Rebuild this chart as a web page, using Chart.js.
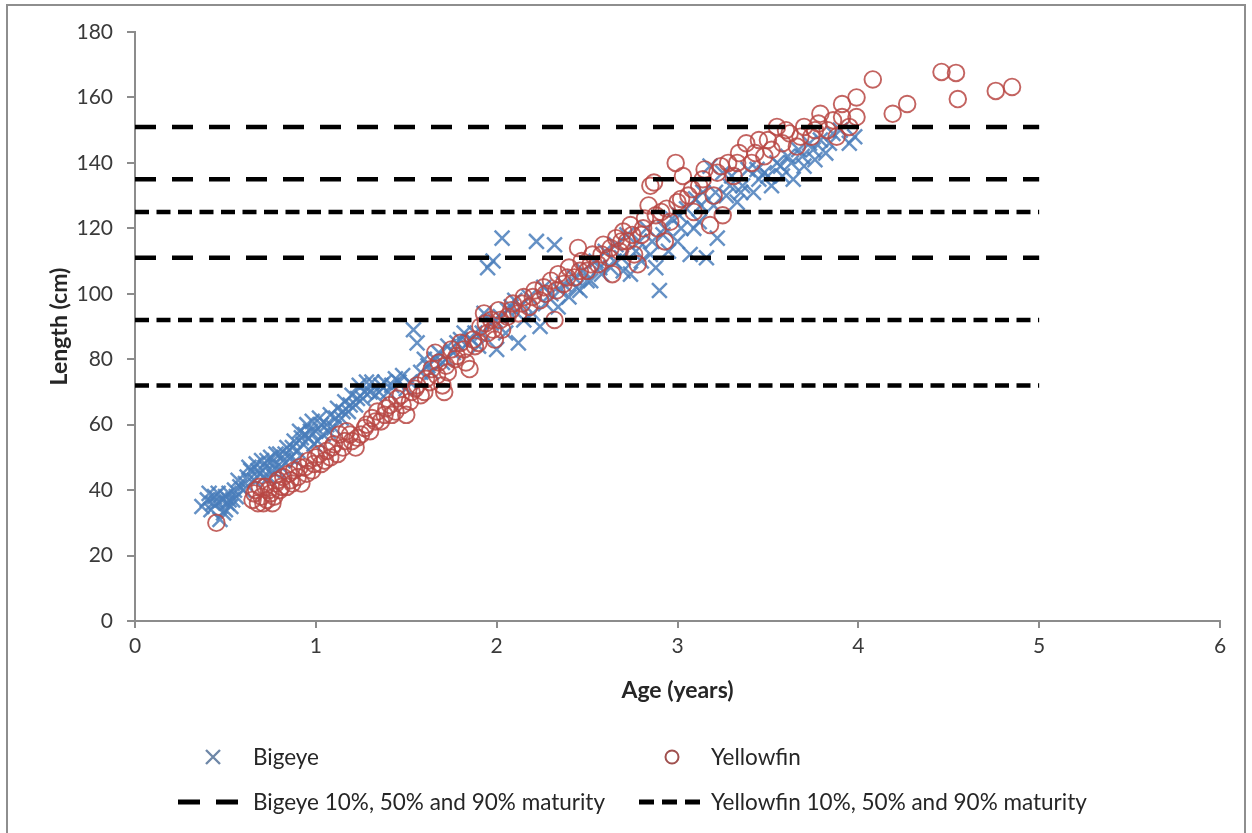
<!DOCTYPE html>
<html>
<head>
<meta charset="utf-8">
<title>Length at age - Bigeye and Yellowfin</title>
<script src="https://cdn.jsdelivr.net/npm/chart.js@4.4.1/dist/chart.umd.min.js"></script>
<style>
  html, body { margin: 0; padding: 0; background: #fff; }
  #wrap { position: relative; width: 1252px; height: 833px; overflow: hidden; font-family: Lato, "Open Sans", sans-serif; }
  #chart { position: absolute; left: 0; top: 0; }
  #frame { position: absolute; left: 6px; top: 4px; width: 1240px; height: 860px; border: 2px solid #8e8e8e; box-sizing: border-box; pointer-events: none; }
  .leg { position: absolute; font-size: 22.5px; color: #262626; line-height: 28px; white-space: nowrap; }
  .mk { position: absolute; }
</style>
</head>
<body>
<div id="wrap">
  <canvas id="chart" width="1252" height="833"></canvas>
  <div id="frame"></div>

  <svg class="mk" style="left:204px;top:748px" width="18" height="18">
    <path d="M2 2 L16 16 M16 2 L2 16" stroke="#6f88a8" stroke-width="2.4"/>
  </svg>
  <div class="leg" style="left:253px;top:743px">Bigeye</div>

  <svg class="mk" style="left:663px;top:748px" width="18" height="18">
    <circle cx="9" cy="9" r="6.5" fill="none" stroke="#a0504e" stroke-width="2"/>
  </svg>
  <div class="leg" style="left:711px;top:743px">Yellowfin</div>

  <svg class="mk" style="left:176px;top:796px" width="72" height="12">
    <path d="M2 6 L24 6 M40 6 L62 6" stroke="#000" stroke-width="5"/>
  </svg>
  <div class="leg" style="left:253px;top:788px">Bigeye 10%, 50% and 90% maturity</div>

  <svg class="mk" style="left:638px;top:796px" width="72" height="12">
    <path d="M1 6 L16 6 M24 6 L39 6 M47 6 L62 6" stroke="#000" stroke-width="5"/>
  </svg>
  <div class="leg" style="left:711px;top:788px">Yellowfin 10%, 50% and 90% maturity</div>
</div>

<script>
// age (years), length (cm)
const bigeyePoints = [
  [0.37,35],[0.40,37],[0.41,39],[0.42,34],[0.43,36],[0.44,38],[0.45,36],[0.46,39],[0.47,31],[0.48,37],
  [0.49,33],[0.50,38],[0.50,34],[0.51,36],[0.52,39],[0.52,37],[0.53,35],[0.54,37],[0.55,40],[0.56,38],
  [0.57,43],[0.58,41],[0.60,40],[0.61,42],[0.62,44],[0.63,47],[0.64,46],[0.66,43],[0.67,48],[0.68,46],
  [0.69,45],[0.70,49],[0.71,44],[0.72,47],[0.73,49],[0.74,44],[0.75,50],[0.76,46],[0.77,48],[0.78,51],
  [0.79,46],[0.80,51],[0.81,47],[0.82,49],[0.83,51],[0.84,53],[0.86,50],[0.87,53],[0.88,55],[0.89,49],
  [0.90,52],[0.91,58],[0.92,56],[0.93,54],[0.94,57],[0.95,60],[0.96,56],[0.97,58],[0.98,61],[0.99,54],
  [1.00,58],[1.01,55],[1.02,62],[1.03,60],[1.04,57],[1.06,60],[1.07,58],[1.08,63],[1.10,59],[1.11,62],
  [1.12,65],[1.14,62],[1.15,64],[1.16,67],[1.18,64],[1.19,66],[1.20,69],[1.22,66],[1.23,68],[1.24,72],
  [1.26,68],[1.27,70],[1.28,73],[1.30,70],[1.31,73],[1.33,69],[1.35,70],[1.36,72],[1.38,73],[1.40,70],
  [1.42,72],[1.44,74],[1.46,73],[1.48,75],[1.50,71],[1.52,73],[1.54,89],[1.56,85],[1.58,76],[1.60,80],
  [1.62,78],[1.64,76],[1.66,80],[1.68,82],[1.70,79],[1.72,80],[1.73,84],[1.76,82],[1.78,85],[1.80,86],
  [1.82,88],[1.84,85],[1.86,86],[1.88,88],[1.90,84],[1.92,88],[1.93,94],[1.95,108],[1.97,91],[1.98,110],
  [1.99,92],[2.00,83],[2.02,93],[2.03,117],[2.05,88],[2.06,95],[2.08,96],[2.10,98],[2.12,85],[2.13,96],
  [2.15,92],[2.18,99],[2.20,94],[2.22,116],[2.24,90],[2.26,102],[2.27,97],[2.30,100],[2.32,115],[2.34,96],
  [2.35,101],[2.37,103],[2.40,99],[2.43,105],[2.44,102],[2.46,101],[2.48,107],[2.50,104],[2.52,104],[2.55,110],
  [2.57,108],[2.58,106],[2.60,113],[2.63,108],[2.65,110],[2.66,115],[2.69,111],[2.70,107],[2.72,118],[2.74,106],
  [2.77,113],[2.79,116],[2.80,110],[2.83,120],[2.85,112],[2.86,116],[2.88,108],[2.90,101],[2.92,118],[2.93,120],
  [2.95,113],[2.97,123],[3.00,116],[3.01,124],[3.02,120],[3.05,126],[3.07,112],[3.09,120],[3.10,129],[3.12,122],
  [3.13,127],[3.14,131],[3.16,111],[3.18,139],[3.20,127],[3.21,131],[3.22,117],[3.25,137],[3.27,130],[3.29,133],
  [3.30,136],[3.33,128],[3.35,131],[3.36,133],[3.39,138],[3.42,131],[3.44,138],[3.45,135],[3.48,137],[3.50,136],
  [3.52,133],[3.55,140],[3.57,139],[3.58,136],[3.61,142],[3.63,140],[3.64,135],[3.67,144],[3.69,142],[3.70,139],
  [3.73,146],[3.75,144],[3.76,141],[3.79,147],[3.82,143],[3.84,146],[3.86,149],[3.90,150],[3.95,146],[3.98,148]
];

const yellowfinPoints = [
  [0.45,30],[0.65,37],[0.66,39],[0.67,40],[0.68,36],[0.69,41],[0.70,38],[0.71,36],[0.72,41],[0.73,37],
  [0.74,40],[0.75,39],[0.76,36],[0.77,38],[0.78,42],[0.79,43],[0.80,40],[0.81,41],[0.82,44],[0.84,41],
  [0.85,45],[0.86,43],[0.87,42],[0.88,46],[0.90,44],[0.91,47],[0.92,42],[0.94,47],[0.95,45],[0.96,49],
  [0.98,46],[0.99,48],[1.00,50],[1.02,51],[1.03,48],[1.05,49],[1.06,52],[1.08,50],[1.09,53],[1.10,54],
  [1.12,51],[1.13,57],[1.15,53],[1.16,55],[1.17,58],[1.19,57],[1.20,55],[1.22,53],[1.23,56],[1.25,57],
  [1.27,59],[1.28,60],[1.30,58],[1.31,62],[1.33,61],[1.34,64],[1.36,61],[1.38,63],[1.39,65],[1.41,66],
  [1.42,63],[1.44,64],[1.45,68],[1.47,69],[1.48,66],[1.50,63],[1.52,67],[1.53,70],[1.55,71],[1.56,72],
  [1.58,69],[1.60,70],[1.61,74],[1.63,73],[1.64,77],[1.66,82],[1.67,75],[1.68,79],[1.70,72],[1.71,70],
  [1.72,78],[1.73,76],[1.75,83],[1.77,80],[1.78,81],[1.80,85],[1.82,83],[1.83,79],[1.85,77],[1.87,86],
  [1.88,84],[1.90,85],[1.91,90],[1.93,94],[1.94,91],[1.95,88],[1.97,92],[1.98,89],[1.99,86],[2.01,95],
  [2.02,92],[2.03,89],[2.06,93],[2.08,95],[2.09,97],[2.12,94],[2.14,97],[2.15,99],[2.18,96],[2.20,99],
  [2.21,101],[2.24,98],[2.26,102],[2.27,100],[2.30,104],[2.32,92],[2.33,101],[2.34,106],[2.37,103],[2.39,105],
  [2.40,108],[2.43,105],[2.45,114],[2.46,107],[2.47,110],[2.50,107],[2.52,109],[2.53,112],[2.56,109],[2.58,112],
  [2.59,115],[2.62,111],[2.63,114],[2.64,106],[2.66,117],[2.68,113],[2.69,116],[2.70,119],[2.72,116],[2.74,121],
  [2.75,118],[2.76,112],[2.78,109],[2.80,118],[2.81,120],[2.82,123],[2.84,127],[2.85,133],[2.87,134],[2.88,124],
  [2.89,120],[2.91,125],[2.93,116],[2.94,126],[2.96,122],[2.99,140],[3.00,128],[3.02,129],[3.03,136],[3.06,130],
  [3.08,132],[3.09,125],[3.12,133],[3.14,135],[3.15,138],[3.18,121],[3.20,130],[3.22,137],[3.24,139],[3.25,124],
  [3.28,140],[3.31,136],[3.33,140],[3.34,143],[3.38,146],[3.41,140],[3.43,143],[3.45,147],[3.48,142],[3.50,147],
  [3.52,144],[3.55,151],[3.58,146],[3.60,150],[3.62,149],[3.66,145],[3.68,148],[3.70,151],[3.74,148],[3.76,150],
  [3.78,152],[3.79,155],[3.83,150],[3.86,153],[3.88,148],[3.91,158],[3.91,154],[3.95,151],[3.99,160],[3.99,154],
  [4.08,165.5],[4.19,155],[4.27,158],[4.46,167.8],[4.54,167.5],[4.55,159.5],[4.76,162],[4.85,163.2]
];

// maturity lengths (cm), drawn from age 0 to 5
const bigeyeMaturity = [111, 135, 151];
const yellowfinMaturity = [72, 92, 125];
const maturityAgeRange = [0, 5];

const xRange = [0, 6];
const yRange = [0, 180];

function toXY(pairs) {
  return pairs.map(p => ({ x: p[0], y: p[1] }));
}

function maturityLine(len, dash, name) {
  return {
    type: 'line',
    label: name,
    data: maturityAgeRange.map(a => ({ x: a, y: len })),
    borderColor: '#000',
    borderWidth: 4.5,
    borderDash: dash,
    borderCapStyle: 'butt',
    pointRadius: 0,
    fill: false,
    order: 0
  };
}

const datasets = [];
bigeyeMaturity.forEach(v => datasets.push(maturityLine(v, [21, 16], 'Bigeye 10%, 50% and 90% maturity')));
yellowfinMaturity.forEach(v => datasets.push(maturityLine(v, [14, 7.5], 'Yellowfin 10%, 50% and 90% maturity')));

datasets.push({
  type: 'scatter',
  label: 'Yellowfin',
  data: toXY(yellowfinPoints),
  pointStyle: 'circle',
  pointRadius: 8.3,
  pointBorderWidth: 1.9,
  pointBorderColor: 'rgba(184,72,68,0.85)',
  pointBackgroundColor: 'rgba(0,0,0,0)',
  order: 1
});
datasets.push({
  type: 'scatter',
  label: 'Bigeye',
  data: toXY(bigeyePoints),
  pointStyle: 'crossRot',
  pointRadius: 10.5,
  pointBorderWidth: 2.5,
  pointBorderColor: 'rgba(74,126,187,0.85)',
  order: 2
});

const tickFont = { family: 'Lato', size: 21 };
const titleFont = { family: 'Lato', size: 23, weight: 'bold' };
const axisGrey = '#8c8c8c';

new Chart(document.getElementById('chart'), {
  type: 'scatter',
  data: { datasets: datasets },
  options: {
    responsive: false,
    animation: false,
    events: [],
    layout: { padding: { top: 32, right: 32, bottom: 120, left: 0 } },
    plugins: {
      legend: { display: false },
      tooltip: { enabled: false }
    },
    scales: {
      x: {
        type: 'linear',
        min: xRange[0],
        max: xRange[1],
        afterFit: s => { s.height = 92; },
        ticks: { stepSize: 1, color: '#3a3a3a', font: tickFont, padding: 6, maxRotation: 0 },
        grid: { drawOnChartArea: false, drawTicks: true, tickLength: 7, color: axisGrey, lineWidth: 2 },
        border: { color: axisGrey, width: 2 },
        title: { display: true, text: 'Age (years)', color: '#262626', font: titleFont, padding: { top: 0, bottom: 9 } }
      },
      y: {
        type: 'linear',
        min: yRange[0],
        max: yRange[1],
        afterFit: s => { s.width = 135; },
        ticks: { stepSize: 20, color: '#3a3a3a', font: tickFont, padding: 14 },
        grid: { drawOnChartArea: false, drawTicks: true, tickLength: 8, color: axisGrey, lineWidth: 2 },
        border: { color: axisGrey, width: 2 },
        title: { display: true, text: 'Length (cm)', color: '#262626', font: titleFont, padding: { top: 46, bottom: 0 } }
      }
    }
  }
});
</script>
</body>
</html>
